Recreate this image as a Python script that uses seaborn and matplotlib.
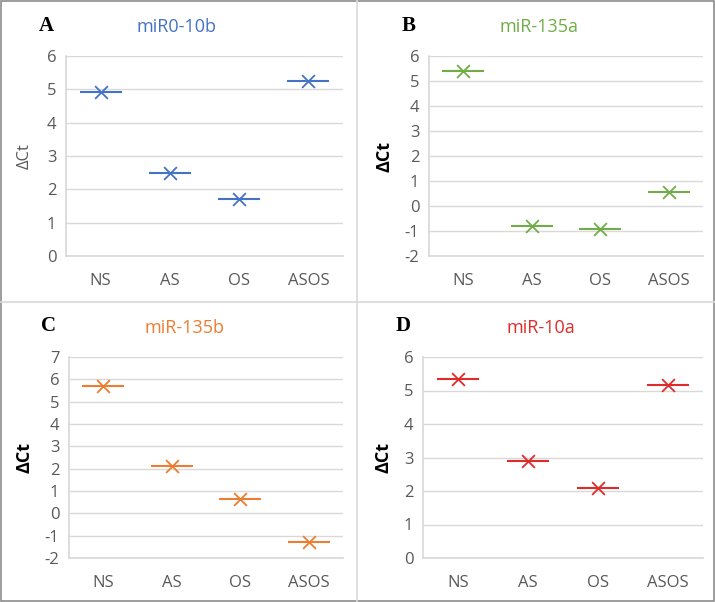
import matplotlib
matplotlib.use("Agg")
import matplotlib.pyplot as plt
import seaborn as sns
from matplotlib.lines import Line2D
from matplotlib.patches import Rectangle

groups = ["NS", "AS", "OS", "ASOS"]

mir10b = [4.92, 2.5, 1.72, 5.25]
mir135a = [5.4, -0.8, -0.9, 0.55]
mir135b = [5.7, 2.1, 0.62, -1.3]
mir10a = [5.35, 2.9, 2.1, 5.15]

panels = [
    # letter, title, values, colour, y range, axes box in pixels (left, top, right, bottom), label style
    ("A", "miR0-10b", mir10b, "#4472C4", (0, 6), (66, 56, 343, 256), "#595959", "normal", 12),
    ("B", "miR-135a", mir135a, "#70AD47", (-2, 6), (429, 56, 703, 256), "black", "bold", 13),
    ("C", "miR-135b", mir135b, "#ED7D31", (-2, 7), (69, 357, 343, 558), "black", "bold", 13),
    ("D", "miR-10a", mir10a, "#E02B2B", (0, 6), (423, 357, 703, 558), "black", "bold", 13),
]

W, H = 715, 602
sns.set_theme(style="white")
plt.rcParams["font.family"] = ["Open Sans", "DejaVu Sans"]
plt.rcParams["axes.unicode_minus"] = False

fig = plt.figure(figsize=(W / 100, H / 100), dpi=100)

for letter, title, vals, col, (ylo, yhi), (l, t, r, b), labcol, labweight, labsize in panels:
    ax = fig.add_axes([l / W, 1 - b / H, (r - l) / W, (b - t) / H])
    sns.scatterplot(x=groups, y=vals, marker="_", s=900, color=col, linewidth=1.5, ax=ax)
    sns.scatterplot(x=groups, y=vals, marker="x", s=85, color=col, linewidth=1.3, ax=ax)
    ax.set_xlim(-0.5, 3.5)
    ax.set_ylim(ylo, yhi)
    ax.set_yticks(range(ylo, yhi + 1))
    ax.yaxis.grid(True, color="#D9D9D9", linewidth=1)
    ax.set_axisbelow(True)
    for s in ["top", "right"]:
        ax.spines[s].set_visible(False)
    ax.spines["left"].set_color("#D9D9D9")
    ax.spines["bottom"].set_color("#D9D9D9")
    ax.tick_params(axis="both", length=0, labelsize=12, colors="#595959", pad=7)
    ax.tick_params(axis="x", pad=12)
    ax.set_xlabel("")
    ax.set_ylabel("ΔCt", fontsize=labsize, color=labcol, fontweight=labweight,
                  labelpad=10 if letter == "A" else 8)
    ax.set_title(title, color=col, fontsize=13, pad=17, x=0.4 if letter in "AB" else 0.42)
    fig.text((l - 20) / W, 1 - 26 / H if letter in "AB" else 1 - 326 / H, letter,
             fontsize=15, fontweight="bold", family="Liberation Serif",
             ha="center", va="center", color="black")

# panel separators and border
fig.add_artist(Line2D([357 / W, 357 / W], [0, 1], color="#D9D9D9", lw=1.2))
fig.add_artist(Line2D([0, 1], [1 - 302 / H, 1 - 302 / H], color="#D9D9D9", lw=1.2))
fig.add_artist(Rectangle((0.001, 0.001), 0.997, 0.997, fill=False, edgecolor="#8C8C8C", lw=1.2,
                         transform=fig.transFigure))

fig.savefig("out.png", dpi=100)
